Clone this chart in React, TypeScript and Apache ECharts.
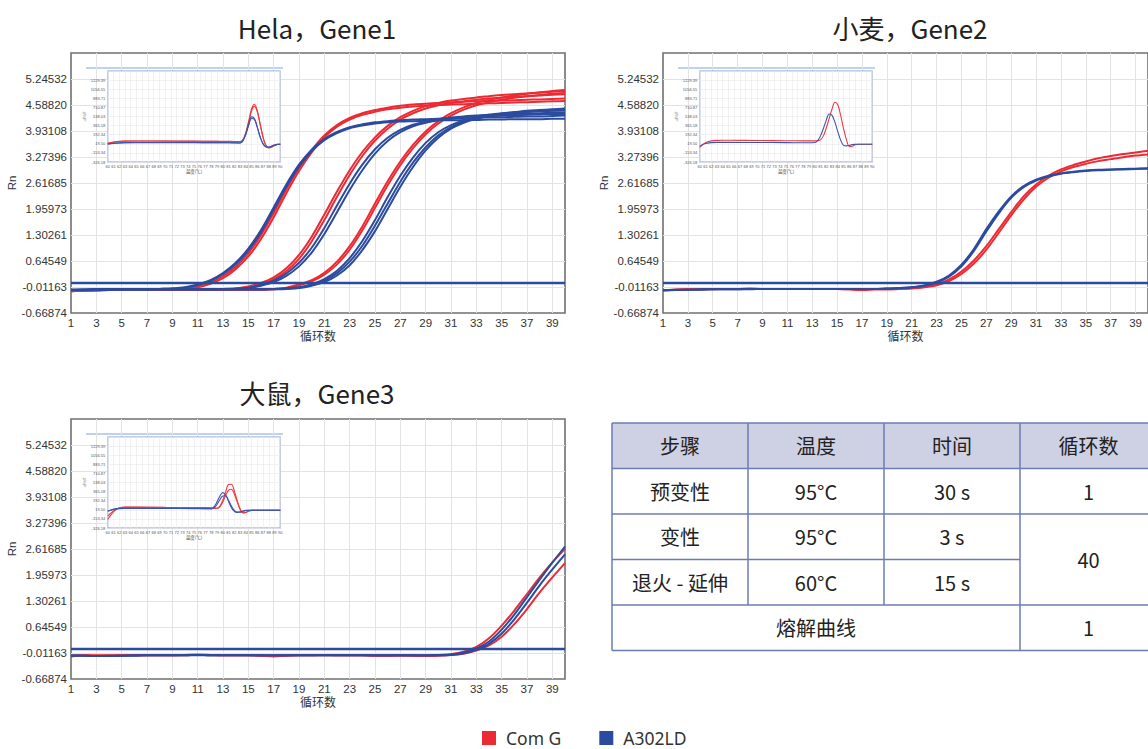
import { useEffect, useRef } from 'react';
import * as echarts from 'echarts';

// ---------- axes / ticks ----------
const CYCLES = ['1','2','3','4','5','6','7','8','9','10','11','12','13','14','15','16','17','18','19','20','21','22','23','24','25','26','27','28','29','30','31','32','33','34','35','36','37','38','39','40'];
const RN_TICK_LABELS = ['-0.66874','-0.01163','0.64549','1.30261','1.95973','2.61685','3.27396','3.93108','4.58820','5.24532'];
const RN_MIN = -0.66874;
const RN_MAX = 5.90244;
const RN_STEP = 0.65712;
const THRESHOLD = 0.1;

const DFDT_TICK_LABELS = ['-326.18','-153.34','19.50','192.34','365.18','538.03','710.87','883.71','1056.55','1229.39'];
const DFDT_MIN = -326.18;
const DFDT_MAX = 1402.23;
const DFDT_STEP = 172.841;
const TEMP_MIN = 60;
const TEMP_MAX = 90;

const TITLES = ['Hela，Gene1', '小麦，Gene2', '大鼠，Gene3'];
const LEGEND_NAMES = ['Com G', 'A302LD'];

// ---------- Hela, Gene1 amplification (Rn per cycle) ----------
const HELA_R1 = [-0.12,-0.10,-0.09,-0.08,-0.08,-0.08,-0.08,-0.08,-0.07,-0.05, 0.00,0.10,0.26,0.50,0.84,1.30,1.86,2.46,3.00,3.45, 3.82,4.08,4.26,4.38,4.46,4.52,4.57,4.60,4.62,4.64, 4.66,4.67,4.68,4.69,4.70,4.71,4.72,4.73,4.74,4.75];
const HELA_R2 = [-0.11,-0.10,-0.09,-0.09,-0.08,-0.08,-0.08,-0.08,-0.08,-0.06, -0.02,0.07,0.21,0.44,0.76,1.20,1.75,2.36,2.92,3.39, 3.77,4.04,4.22,4.34,4.42,4.48,4.52,4.55,4.57,4.59, 4.60,4.61,4.62,4.63,4.64,4.65,4.66,4.67,4.68,4.69];
const HELA_R3 = [-0.12,-0.10,-0.09,-0.09,-0.08,-0.08,-0.08,-0.08,-0.08,-0.08, -0.08,-0.08,-0.07,-0.05,0.00,0.09,0.23,0.46,0.80,1.26, 1.82,2.40,2.94,3.40,3.77,4.06,4.28,4.44,4.56,4.64, 4.70,4.74,4.78,4.81,4.84,4.86,4.88,4.90,4.92,4.94];
const HELA_R4 = [-0.11,-0.10,-0.10,-0.09,-0.09,-0.08,-0.08,-0.08,-0.08,-0.08, -0.08,-0.08,-0.08,-0.06,-0.02,0.06,0.18,0.39,0.70,1.14, 1.68,2.27,2.82,3.30,3.69,3.99,4.22,4.38,4.50,4.58, 4.64,4.68,4.72,4.75,4.77,4.79,4.81,4.83,4.85,4.86];
const HELA_R5 = [-0.12,-0.10,-0.09,-0.09,-0.08,-0.08,-0.08,-0.08,-0.08,-0.08, -0.08,-0.08,-0.08,-0.08,-0.08,-0.08,-0.07,-0.03,0.05,0.16, 0.35,0.63,1.02,1.52,2.10,2.66,3.16,3.58,3.92,4.18, 4.38,4.53,4.64,4.72,4.78,4.83,4.87,4.91,4.94,4.97];
const HELA_R6 = [-0.11,-0.10,-0.10,-0.09,-0.09,-0.09,-0.08,-0.08,-0.08,-0.08, -0.08,-0.08,-0.08,-0.08,-0.08,-0.08,-0.07,-0.04,0.03,0.13, 0.30,0.56,0.93,1.42,1.99,2.56,3.07,3.50,3.85,4.12, 4.32,4.47,4.58,4.66,4.72,4.77,4.81,4.84,4.87,4.89];
const HELA_B1 = [-0.08,-0.08,-0.07,-0.07,-0.07,-0.07,-0.07,-0.06,-0.05,-0.02, 0.05,0.16,0.34,0.60,0.96,1.43,2.00,2.58,3.08,3.46, 3.73,3.91,4.03,4.10,4.15,4.18,4.20,4.22,4.23,4.24, 4.25,4.26,4.27,4.28,4.28,4.29,4.30,4.30,4.31,4.32];
const HELA_B2 = [-0.09,-0.08,-0.08,-0.07,-0.07,-0.07,-0.07,-0.06,-0.05,-0.03, 0.04,0.14,0.31,0.56,0.91,1.37,1.94,2.52,3.03,3.42, 3.70,3.88,4.00,4.07,4.12,4.15,4.17,4.18,4.19,4.20, 4.20,4.21,4.21,4.22,4.22,4.23,4.23,4.23,4.24,4.24];
const HELA_B3 = [-0.08,-0.08,-0.07,-0.07,-0.07,-0.07,-0.07,-0.07,-0.07,-0.07, -0.07,-0.07,-0.06,-0.05,-0.03,0.04,0.15,0.33,0.60,0.98, 1.48,2.05,2.60,3.08,3.47,3.76,3.96,4.09,4.17,4.23, 4.27,4.30,4.32,4.34,4.35,4.36,4.37,4.38,4.39,4.40];
const HELA_B4 = [-0.09,-0.08,-0.08,-0.07,-0.07,-0.07,-0.07,-0.07,-0.07,-0.07, -0.07,-0.07,-0.07,-0.06,-0.04,0.02,0.11,0.27,0.51,0.86, 1.33,1.88,2.44,2.94,3.36,3.68,3.90,4.05,4.14,4.20, 4.24,4.27,4.29,4.31,4.32,4.33,4.34,4.35,4.36,4.36];
const HELA_B5 = [-0.08,-0.08,-0.07,-0.07,-0.07,-0.07,-0.07,-0.07,-0.07,-0.07, -0.07,-0.07,-0.07,-0.07,-0.07,-0.07,-0.06,-0.05,-0.02,0.06, 0.19,0.40,0.72,1.15,1.68,2.26,2.80,3.26,3.63,3.90, 4.08,4.20,4.28,4.34,4.38,4.41,4.44,4.46,4.48,4.50];
const HELA_B6 = [-0.09,-0.08,-0.08,-0.07,-0.07,-0.07,-0.07,-0.07,-0.07,-0.07, -0.07,-0.07,-0.07,-0.07,-0.07,-0.07,-0.06,-0.05,-0.03,0.04, 0.15,0.34,0.63,1.03,1.54,2.10,2.65,3.13,3.52,3.82, 4.03,4.17,4.26,4.32,4.37,4.40,4.42,4.44,4.45,4.46];
const HELA_B7 = [-0.09,-0.09,-0.08,-0.08,-0.07,-0.07,-0.07,-0.07,-0.07,-0.07, -0.07,-0.07,-0.07,-0.07,-0.07,-0.07,-0.07,-0.06,-0.04,0.02, 0.11,0.28,0.54,0.92,1.40,1.96,2.52,3.02,3.44,3.76, 3.99,4.14,4.24,4.31,4.36,4.39,4.41,4.43,4.44,4.45];

// ---------- 小麦, Gene2 ----------
const WHEAT_R1 = [-0.10,-0.08,-0.07,-0.07,-0.06,-0.06,-0.06,-0.05,-0.06,-0.06, -0.06,-0.06,-0.06,-0.06,-0.06,-0.07,-0.09,-0.07,-0.07,-0.06, -0.04,-0.01,0.05,0.18,0.38,0.66,1.02,1.45,1.88,2.28, 2.58,2.80,2.96,3.07,3.16,3.24,3.30,3.35,3.39,3.43];
const WHEAT_R2 = [-0.09,-0.08,-0.07,-0.07,-0.07,-0.06,-0.06,-0.06,-0.06,-0.06, -0.06,-0.06,-0.06,-0.06,-0.06,-0.07,-0.08,-0.07,-0.07,-0.06, -0.05,-0.02,0.03,0.14,0.32,0.58,0.93,1.36,1.80,2.20, 2.52,2.75,2.91,3.02,3.10,3.17,3.22,3.27,3.31,3.34];
const WHEAT_B1 = [-0.09,-0.08,-0.08,-0.07,-0.07,-0.07,-0.07,-0.06,-0.06,-0.06, -0.06,-0.06,-0.06,-0.06,-0.06,-0.06,-0.06,-0.06,-0.05,-0.04, -0.02,0.03,0.12,0.28,0.55,0.95,1.45,1.90,2.28,2.54, 2.70,2.80,2.86,2.90,2.93,2.95,2.96,2.97,2.98,2.99];
const WHEAT_B2 = [-0.10,-0.09,-0.08,-0.08,-0.07,-0.07,-0.07,-0.07,-0.06,-0.06, -0.06,-0.06,-0.06,-0.06,-0.06,-0.06,-0.06,-0.06,-0.05,-0.04, -0.02,0.02,0.10,0.25,0.51,0.90,1.39,1.85,2.24,2.51, 2.68,2.78,2.85,2.89,2.92,2.94,2.95,2.96,2.97,2.98];

// ---------- 大鼠, Gene3 ----------
const RAT_R1 = [-0.10,-0.07,-0.07,-0.07,-0.07,-0.07,-0.07,-0.07,-0.07,-0.06, -0.05,-0.06,-0.07,-0.07,-0.07,-0.08,-0.10,-0.08,-0.07,-0.07, -0.06,-0.07,-0.07,-0.07,-0.08,-0.08,-0.07,-0.08,-0.09,-0.07, -0.04,0.02,0.14,0.36,0.68,1.06,1.48,1.90,2.28,2.62];
const RAT_R2 = [-0.08,-0.07,-0.08,-0.08,-0.07,-0.07,-0.07,-0.07,-0.07,-0.07, -0.06,-0.07,-0.07,-0.07,-0.07,-0.08,-0.09,-0.08,-0.07,-0.07, -0.07,-0.07,-0.07,-0.07,-0.08,-0.08,-0.08,-0.08,-0.09,-0.08, -0.06,-0.03,0.05,0.18,0.40,0.72,1.10,1.52,1.90,2.26];
const RAT_B1 = [-0.07,-0.08,-0.09,-0.08,-0.08,-0.07,-0.07,-0.07,-0.07,-0.07, -0.06,-0.07,-0.07,-0.07,-0.07,-0.07,-0.07,-0.07,-0.07,-0.07, -0.07,-0.07,-0.07,-0.07,-0.07,-0.07,-0.07,-0.07,-0.07,-0.06, -0.05,0.00,0.10,0.28,0.58,0.96,1.40,1.84,2.27,2.68];
const RAT_B2 = [-0.08,-0.08,-0.09,-0.09,-0.08,-0.08,-0.07,-0.07,-0.07,-0.07, -0.07,-0.07,-0.07,-0.07,-0.07,-0.07,-0.07,-0.07,-0.07,-0.07, -0.07,-0.07,-0.07,-0.07,-0.07,-0.07,-0.07,-0.07,-0.07,-0.07, -0.06,-0.02,0.07,0.22,0.48,0.84,1.26,1.70,2.10,2.48];

// ---------- melt curves (-dF/dT vs temperature) ----------
const MELT_T = [60,61,62,63,65,70,75,78,79,80, 80.5,81,81.5,82,82.5,83,83.5,84,84.5,85, 85.5,86,86.5,87,87.5,88,88.5,89,89.5,90];
const HELA_MELT_R1 = [30,55,68,72,74,72,70,68,67,66, 66,65,65,64,62,60,95,230,450,680, 770,650,400,150,-10,-60,-45,-15,5,12];
const HELA_MELT_R2 = [25,50,64,70,72,70,68,66,65,64, 64,63,63,62,60,58,90,215,420,640, 735,625,385,140,-15,-55,-40,-12,6,12];
const HELA_MELT_B1 = [15,30,38,42,44,44,43,42,42,41, 41,41,40,40,38,36,80,210,390,530, 500,340,150,20,-40,-45,-25,-5,8,12];
const HELA_MELT_B2 = [12,28,36,40,42,42,41,40,40,39, 39,39,38,38,36,35,75,195,365,500, 480,330,145,18,-38,-42,-22,-4,8,12];
const WHEAT_MELT_R1 = [-50,40,75,85,86,82,78,76,75,75, 78,95,170,320,500,680,810,760,560,310, 100,-30,-25,0,10,12,12,12,12,12];
const WHEAT_MELT_B1 = [-20,25,42,46,46,44,42,40,40,45, 80,170,310,470,585,560,430,250,90,-10, -20,-10,5,10,12,12,12,12,12,12];
const RAT_MELT_T = [60,61,62,63,65,70,75,77,77.5,78, 78.5,79,79.5,80,80.5,81,81.5,82,82.5,83, 83.5,84,84.5,85,86,87,88,89,90];
const RAT_MELT_R1 = [-165,-20,60,70,70,66,62,60,58,56, 52,50,90,200,360,500,505,380,200,40, -40,-30,-5,8,12,12,12,12,12];
const RAT_MELT_R2 = [-100,0,55,66,66,63,60,58,56,54, 50,48,75,165,290,390,410,320,170,30, -35,-28,-5,8,12,12,12,12,12];
const RAT_MELT_B1 = [-10,30,45,48,48,46,44,42,42,40, 80,170,280,345,300,180,60,-10,-30,-20, -5,8,12,12,12,12,12,12,12];
const RAT_MELT_B2 = [-5,28,42,45,45,44,42,40,40,38, 55,120,210,280,285,200,90,10,-25,-25, -8,6,12,12,12,12,12,12,12];

// ---------- table ----------
const TABLE_HEADER = ['步骤', '温度', '时间', '循环数'];
const TABLE_STEPS = ['预变性', '变性', '退火 - 延伸'];
const TABLE_TEMPS = ['95°C', '95°C', '60°C'];
const TABLE_TIMES = ['30 s', '3 s', '15 s'];
const TABLE_CYCLES = ['1', '40'];
const TABLE_MELT = ['熔解曲线', '1'];

// ---------- styles / layout ----------
const RED = '#ec2a33';
const BLUE = '#2b4b9f';
const MELT_RED = '#f03a3f';
const MELT_BLUE = '#3a55ad';
const AXIS_FONT = "'Liberation Sans', 'Noto Sans CJK SC', sans-serif";
const CJK_FONT = "'Noto Sans CJK SC', 'Noto Sans', sans-serif";

const MAIN_POS = [{ left: 71, top: 53 }, { left: 663, top: 53 }, { left: 71, top: 419 }];
const MAIN_W = 494;
const MAIN_H = 260;
const INSET_POS = [{ left: 107.7, top: 71 }, { left: 699.7, top: 71 }, { left: 107.7, top: 437 }];
const INSET_W = 172.6;
const INSET_H = 91;
const TITLE_POS = [{ x: 317, y: 27 }, { x: 910, y: 27 }, { x: 317, y: 392 }];
const TABLE_X = [612, 748, 884, 1020, 1157];
const TABLE_Y = [423, 468.5, 514, 559.5, 605, 650.5];

function buildOption() {
  const panels = [
    { red: [HELA_R1, HELA_R2, HELA_R3, HELA_R4, HELA_R5, HELA_R6], blue: [HELA_B1, HELA_B2, HELA_B3, HELA_B4, HELA_B5, HELA_B6, HELA_B7],
      meltT: MELT_T, meltRed: [HELA_MELT_R1, HELA_MELT_R2], meltBlue: [HELA_MELT_B1, HELA_MELT_B2] },
    { red: [WHEAT_R1, WHEAT_R2], blue: [WHEAT_B1, WHEAT_B2],
      meltT: MELT_T, meltRed: [WHEAT_MELT_R1], meltBlue: [WHEAT_MELT_B1] },
    { red: [RAT_R1, RAT_R2], blue: [RAT_B1, RAT_B2],
      meltT: RAT_MELT_T, meltRed: [RAT_MELT_R1, RAT_MELT_R2], meltBlue: [RAT_MELT_B1, RAT_MELT_B2] },
  ];

  const grid: any[] = [];
  const xAxis: any[] = [];
  const yAxis: any[] = [];
  const series: any[] = [];

  const rnFormatter = (v: number) => {
    const i = Math.round((v - RN_MIN) / RN_STEP);
    return i >= 0 && i < RN_TICK_LABELS.length ? RN_TICK_LABELS[i] : '';
  };
  const dfFormatter = (v: number) => {
    const i = Math.round((v - DFDT_MIN) / DFDT_STEP);
    return i >= 0 && i < DFDT_TICK_LABELS.length ? DFDT_TICK_LABELS[i] : '';
  };

  MAIN_POS.forEach((p) => {
    grid.push({ left: p.left, top: p.top, width: MAIN_W, height: MAIN_H, show: true, backgroundColor: '#fff', borderColor: '#707070', borderWidth: 1.6, containLabel: false });
  });
  INSET_POS.forEach((p) => {
    grid.push({ left: p.left, top: p.top, width: INSET_W, height: INSET_H, show: true, backgroundColor: '#fff', borderColor: '#8b9dd2', borderWidth: 1.2, z: 4 });
  });

  MAIN_POS.forEach((_, g) => {
    xAxis.push({
      type: 'category', gridIndex: g, data: CYCLES, boundaryGap: false,
      axisLine: { show: false }, axisTick: { show: false },
      axisLabel: { interval: 1, fontSize: 11.5, color: '#333', margin: 4, fontFamily: AXIS_FONT },
      splitLine: { show: true, interval: 1, showMinLine: false, lineStyle: { color: '#e3e3e3', width: 1 } },
      name: '循环数', nameLocation: 'middle', nameGap: 15,
      nameTextStyle: { fontSize: 12, color: '#333', fontFamily: CJK_FONT },
    });
    yAxis.push({
      type: 'value', gridIndex: g, min: RN_MIN, max: RN_MAX, interval: RN_STEP,
      axisLine: { show: false }, axisTick: { show: false },
      axisLabel: { formatter: rnFormatter, fontSize: 11.5, color: '#333', margin: 4, fontFamily: AXIS_FONT },
      splitLine: { show: true, showMinLine: false, showMaxLine: false, lineStyle: { color: '#e3e3e3', width: 1 } },
      name: 'Rn', nameLocation: 'middle', nameGap: 52, nameRotate: 90,
      nameTextStyle: { fontSize: 11.5, color: '#333', fontFamily: AXIS_FONT },
    });
  });
  INSET_POS.forEach((_, k) => {
    const g = 3 + k;
    xAxis.push({
      type: 'value', gridIndex: g, min: TEMP_MIN, max: TEMP_MAX, interval: 1, z: 4,
      axisLine: { show: false }, axisTick: { show: false },
      axisLabel: { fontSize: 4, color: '#555', margin: 2, fontFamily: AXIS_FONT },
      splitLine: { show: true, lineStyle: { color: '#e9e9e9', width: 0.6 } },
      name: '温度(℃)', nameLocation: 'middle', nameGap: 7,
      nameTextStyle: { fontSize: 4.5, color: '#444', fontFamily: CJK_FONT },
    });
    yAxis.push({
      type: 'value', gridIndex: g, min: DFDT_MIN, max: DFDT_MAX, interval: DFDT_STEP, z: 4,
      axisLine: { show: false }, axisTick: { show: false },
      axisLabel: { formatter: dfFormatter, fontSize: 4, color: '#555', margin: 2.5, fontFamily: AXIS_FONT },
      splitLine: { show: true, lineStyle: { color: '#e9e9e9', width: 0.6 } },
      name: '-dF/dT', nameLocation: 'middle', nameGap: 15, nameRotate: 90,
      nameTextStyle: { fontSize: 3.6, color: '#555', fontFamily: AXIS_FONT },
    });
  });

  panels.forEach((p, g) => {
    const mk = (data: number[], color: string, name: string, withThreshold: boolean) => {
      const s: any = {
        type: 'line', name, xAxisIndex: g, yAxisIndex: g, data, smooth: 0.3,
        symbol: 'none', showSymbol: false, silent: true, z: 2,
        lineStyle: { color, width: 2 }, itemStyle: { color },
      };
      if (withThreshold) {
        s.markLine = {
          silent: true, symbol: 'none', label: { show: false },
          lineStyle: { color: BLUE, width: 2.4, type: 'solid' },
          data: [{ yAxis: THRESHOLD }],
        };
      }
      return s;
    };
    p.red.forEach((d) => series.push(mk(d, RED, LEGEND_NAMES[0], false)));
    p.blue.forEach((d, i) => series.push(mk(d, BLUE, LEGEND_NAMES[1], i === 0)));

    const mkMelt = (vals: number[], color: string, name: string) => ({
      type: 'line', name, xAxisIndex: 3 + g, yAxisIndex: 3 + g,
      data: p.meltT.map((t, i) => [t, vals[i]]), smooth: 0.35,
      symbol: 'none', showSymbol: false, silent: true, z: 6,
      lineStyle: { color, width: 1.1 }, itemStyle: { color },
    });
    p.meltRed.forEach((v) => series.push(mkMelt(v, MELT_RED, LEGEND_NAMES[0])));
    p.meltBlue.forEach((v) => series.push(mkMelt(v, MELT_BLUE, LEGEND_NAMES[1])));
  });

  const elements: any[] = [];
  TITLES.forEach((t, i) => {
    elements.push({
      type: 'text', x: TITLE_POS[i].x, y: TITLE_POS[i].y,
      style: { text: t, fontSize: 26, fontFamily: CJK_FONT, fill: '#222', align: 'center', verticalAlign: 'middle' },
    });
  });
  INSET_POS.forEach((p) => {
    elements.push({ type: 'rect', shape: { x: p.left - 21.7, y: p.top - 3, width: 197, height: 104 }, style: { fill: '#fff' } });
    elements.push({ type: 'line', shape: { x1: p.left - 21.7, y1: p.top - 3, x2: p.left + 175.3, y2: p.top - 3 }, style: { stroke: '#a8c3ea', lineWidth: 1.3 } });
  });

  const LINE = { stroke: '#6b7cb4', lineWidth: 1.5 };
  const [x0, x1, x2, x3, x4] = TABLE_X;
  const [y0, y1, y2, y3, y4, y5] = TABLE_Y;
  elements.push({ type: 'rect', shape: { x: x0, y: y0, width: x4 - x0, height: y1 - y0 }, style: { fill: '#ced0e3' } });
  const hl = (xa: number, xb: number, y: number) => elements.push({ type: 'line', shape: { x1: xa, y1: y, x2: xb, y2: y }, style: LINE });
  const vl = (x: number, ya: number, yb: number) => elements.push({ type: 'line', shape: { x1: x, y1: ya, x2: x, y2: yb }, style: LINE });
  hl(x0, x4, y0); hl(x0, x4, y1); hl(x0, x4, y2); hl(x0, x3, y3); hl(x0, x4, y4); hl(x0, x4, y5);
  vl(x0, y0, y5); vl(x1, y0, y4); vl(x2, y0, y4); vl(x3, y0, y5);

  const cell = (text: string, cx: number, cy: number) => elements.push({
    type: 'text', x: cx, y: cy,
    style: { text, fontSize: 20, fontFamily: CJK_FONT, fill: '#222', align: 'center', verticalAlign: 'middle' },
  });
  const colC = [(x0 + x1) / 2, (x1 + x2) / 2, (x2 + x3) / 2, (x3 + x4) / 2];
  const rowC = [(y0 + y1) / 2, (y1 + y2) / 2, (y2 + y3) / 2, (y3 + y4) / 2, (y4 + y5) / 2];
  TABLE_HEADER.forEach((h, i) => cell(h, colC[i], rowC[0]));
  TABLE_STEPS.forEach((s, r) => {
    cell(s, colC[0], rowC[r + 1]);
    cell(TABLE_TEMPS[r], colC[1], rowC[r + 1]);
    cell(TABLE_TIMES[r], colC[2], rowC[r + 1]);
  });
  cell(TABLE_CYCLES[0], colC[3], rowC[1]);
  cell(TABLE_CYCLES[1], colC[3], (y2 + y4) / 2);
  cell(TABLE_MELT[0], (x0 + x3) / 2, rowC[4]);
  cell(TABLE_MELT[1], colC[3], rowC[4]);

  return {
    animation: false,
    backgroundColor: '#fff',
    grid, xAxis, yAxis, series,
    legend: {
      data: LEGEND_NAMES, left: 482, top: 729, padding: 0, icon: 'rect', itemWidth: 14, itemHeight: 14, itemGap: 38,
      selectedMode: false,
      textStyle: { fontSize: 17.5, lineHeight: 18, color: '#333', fontFamily: "'Noto Sans', sans-serif", padding: [0, 0, 0, 5] },
    },
    graphic: { z: 3, elements },
  };
}

export default function App() {
  const ref = useRef<HTMLDivElement>(null);
  useEffect(() => {
    if (!ref.current) return;
    const chart = echarts.init(ref.current, null, { renderer: 'svg' });
    chart.setOption(buildOption() as any);
    return () => chart.dispose();
  }, []);
  return <div ref={ref} style={{ position: 'fixed', left: 0, top: 0, width: 1148, height: 749, background: '#fff' }} />;
}
